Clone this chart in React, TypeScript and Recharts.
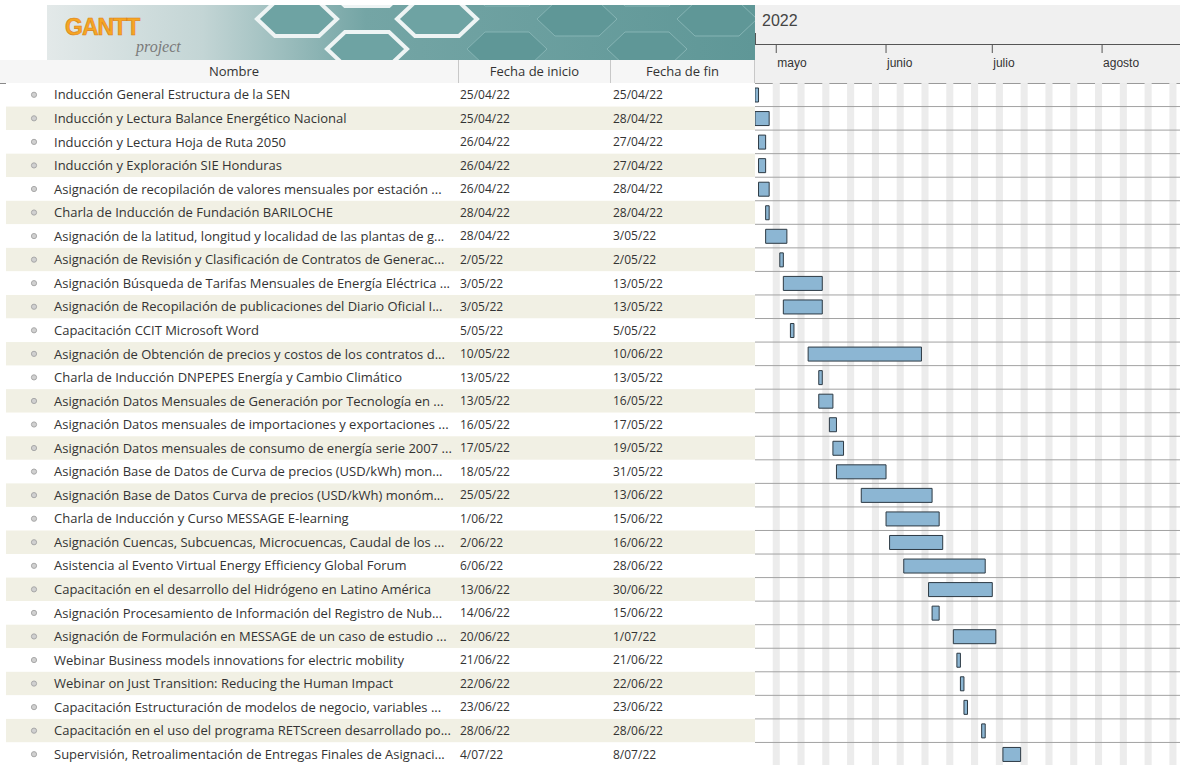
import React from "react";
import { BarChart, Bar, XAxis, YAxis, ReferenceArea, ReferenceLine } from "recharts";

const taskNames = [
  "Inducción General Estructura de la SEN",
  "Inducción y Lectura Balance Energético Nacional",
  "Inducción y Lectura Hoja de Ruta 2050",
  "Inducción y Exploración SIE Honduras",
  "Asignación de recopilación de valores mensuales por estación ...",
  "Charla de Inducción de Fundación BARILOCHE",
  "Asignación de la latitud, longitud y localidad de las plantas de g...",
  "Asignación de Revisión y Clasificación de Contratos de Generac...",
  "Asignación Búsqueda de Tarifas Mensuales de Energía Eléctrica ...",
  "Asignación de Recopilación de publicaciones del Diario Oficial I...",
  "Capacitación CCIT Microsoft Word",
  "Asignación de Obtención de precios y costos de los contratos d...",
  "Charla de Inducción DNPEPES Energía y Cambio Climático",
  "Asignación Datos Mensuales de Generación por Tecnología en ...",
  "Asignación Datos mensuales de importaciones y exportaciones ...",
  "Asignación Datos mensuales de consumo de energía serie 2007 ...",
  "Asignación Base de Datos de Curva de precios (USD/kWh) mon...",
  "Asignación Base de Datos Curva de precios (USD/kWh) monóm...",
  "Charla de Inducción y Curso MESSAGE E-learning",
  "Asignación Cuencas, Subcuencas, Microcuencas, Caudal de los ...",
  "Asistencia al Evento Virtual Energy Efficiency Global Forum",
  "Capacitación en el desarrollo del Hidrógeno en Latino América",
  "Asignación Procesamiento de Información del Registro de Nub...",
  "Asignación de Formulación en MESSAGE de un caso de estudio ...",
  "Webinar Business models innovations for electric mobility",
  "Webinar on Just Transition: Reducing the Human Impact",
  "Capacitación Estructuración de modelos de negocio, variables ...",
  "Capacitación en el uso del programa RETScreen desarrollado po...",
  "Supervisión, Retroalimentación de Entregas Finales de Asignaci...",
];

const startDates = [
  "25/04/22", "25/04/22", "26/04/22", "26/04/22", "26/04/22", "28/04/22", "28/04/22", "2/05/22",
  "3/05/22", "3/05/22", "5/05/22", "10/05/22", "13/05/22", "13/05/22", "16/05/22", "17/05/22",
  "18/05/22", "25/05/22", "1/06/22", "2/06/22", "6/06/22", "13/06/22", "14/06/22", "20/06/22",
  "21/06/22", "22/06/22", "23/06/22", "28/06/22", "4/07/22",
];

const endDates = [
  "25/04/22", "28/04/22", "27/04/22", "27/04/22", "28/04/22", "28/04/22", "3/05/22", "2/05/22",
  "13/05/22", "13/05/22", "5/05/22", "10/06/22", "13/05/22", "16/05/22", "17/05/22", "19/05/22",
  "31/05/22", "13/06/22", "15/06/22", "16/06/22", "28/06/22", "30/06/22", "15/06/22", "1/07/22",
  "21/06/22", "22/06/22", "23/06/22", "28/06/22", "8/07/22",
];

const monthLabels = ["mayo", "junio", "julio", "agosto"];
const monthStarts = ["1/05/22", "1/06/22", "1/07/22", "1/08/22"];
const yearLabel = "2022";
const columnTitles = ["Nombre", "Fecha de inicio", "Fecha de fin"];
const viewStart = "25/04/22";
const viewEnd = "23/08/22";

function toUtc(s: string) {
  const [d, m, y] = s.split("/").map(Number);
  return Date.UTC(2000 + y, m - 1, d);
}
function toDay(s: string) {
  return Math.round((toUtc(s) - toUtc(viewStart)) / 86400000);
}

const rows = taskNames.map((name, i) => {
  const s = toDay(startDates[i]);
  const e = toDay(endDates[i]);
  return { name, offset: s, duration: e - s + 1 };
});

const lastDay = toDay(viewEnd);
const weekends: number[] = [];
for (let d = 0; d <= lastDay; d++) {
  if (new Date(toUtc(viewStart) + d * 86400000).getUTCDay() === 6) weekends.push(d);
}
const monthTicks = monthStarts.map(toDay);

const W = 1180;
const H = 766;
const TOP = 83;
const TABLE_W = 755;
const ROW_H = (H - TOP) / rows.length;
const FONT = "'Open Sans', 'Noto Sans', sans-serif";

function TableRow(props: any) {
  const { y, payload, index } = props;
  return (
    <g>
      <rect x={6} y={y - ROW_H / 2} width={TABLE_W - 6} height={ROW_H} fill={index % 2 ? "#f1f0e4" : "#ffffff"} />
      <circle cx={34} cy={y} r={2.6} fill="#d0d0d0" stroke="#a8a8a8" strokeWidth={1} />
      <text x={54} y={y} dy="0.36em" fontSize={13} fontFamily={FONT} fill="#333">
        {payload.value}
      </text>
      <text x={460} y={y} dy="0.36em" fontSize={12} fontFamily={FONT} fill="#333">
        {startDates[index]}
      </text>
      <text x={613} y={y} dy="0.36em" fontSize={12} fontFamily={FONT} fill="#333">
        {endDates[index]}
      </text>
    </g>
  );
}

function MonthTick(props: any) {
  const { x, index } = props;
  return (
    <g>
      <line x1={x} x2={x} y1={44} y2={53} stroke="#555" strokeWidth={1} />
      <text x={x + 1} y={67} fontSize={12} fontFamily="'Liberation Sans', Arial, sans-serif" fill="#333">
        {monthLabels[index]}
      </text>
    </g>
  );
}

function Banner() {
  const hexes = [
    [250, 14], [320, 44], [390, 14], [320, -16], [460, 44], [530, 14], [600, 44], [670, 14], [460, -16], [600, -16],
  ];
  return (
    <svg width={708} height={55} style={{ position: "absolute", left: 47, top: 5 }}>
      <defs>
        <linearGradient id="bg" x1="0" x2="1" y1="0" y2="0">
          <stop offset="0" stopColor="#e3e9e9" />
          <stop offset="0.22" stopColor="#c3d5d5" />
          <stop offset="0.45" stopColor="#74a5a5" />
          <stop offset="1" stopColor="#5f9797" />
        </linearGradient>
      </defs>
      <rect width={708} height={55} fill="url(#bg)" />
      {hexes.map(([cx, cy], i) => (
        <polygon
          key={i}
          points={`${cx - 40},${cy} ${cx - 22},${cy - 17} ${cx + 22},${cy - 17} ${cx + 40},${cy} ${cx + 22},${cy + 17} ${cx - 22},${cy + 17}`}
          fill={i < 3 ? "#6ea3a3" : "#5f9797"}
          stroke={i < 4 ? "#eef4f4" : "#86b4b4"}
          strokeWidth={i < 4 ? 4 : 1}
        />
      ))}
      <text x={18} y={30} fontSize={23} fontWeight="bold" fontFamily="'Liberation Sans', Arial, sans-serif" fill="#f6a623" stroke="#d9801a" strokeWidth={0.6} letterSpacing={-1}>
        GANTT
      </text>
      <text x={89} y={47} fontSize={16} fontStyle="italic" fontFamily="'Liberation Serif', serif" fill="#7a7a7a">
        project
      </text>
    </svg>
  );
}

export default function App() {
  return (
    <div style={{ position: "absolute", left: 0, top: 0, width: W, height: 765, overflow: "hidden", background: "#fff", fontFamily: FONT }}>
      <Banner />
      {/* table header */}
      <div style={{ position: "absolute", left: 0, top: 60, width: TABLE_W, height: 23, background: "#f6f6f6", borderBottom: "1px solid #8a8a8a" }} />
      {[
        [10, 459],
        [459, 611],
        [611, 755],
      ].map(([a, b], i) => (
        <div
          key={i}
          style={{
            position: "absolute", left: a, top: 60, width: b - a, height: 23, lineHeight: "23px",
            textAlign: "center", fontSize: 13, color: "#333", borderRight: "1px solid #c8c8c8", boxSizing: "border-box",
          }}
        >
          {columnTitles[i]}
        </div>
      ))}
      {/* timeline header */}
      <div style={{ position: "absolute", left: TABLE_W, top: 5, width: W - TABLE_W, height: 78, background: "#f0f0f0", borderBottom: "1px solid #9a9a9a" }} />
      <div style={{ position: "absolute", left: TABLE_W, top: 44, width: W - TABLE_W, height: 1, background: "#555" }} />
      <div style={{ position: "absolute", left: TABLE_W, top: 33, width: 1, height: 11, background: "#555" }} />
      <div style={{ position: "absolute", left: 762, top: 12, fontSize: 16, color: "#444", fontFamily: "'Liberation Sans', Arial, sans-serif" }}>{yearLabel}</div>
      <div style={{ position: "absolute", left: 0, top: 0 }}>
        <BarChart width={W} height={H} data={rows} layout="vertical" margin={{ top: TOP - 40, right: 0, bottom: 0, left: 0 }} barSize={14}>
          <XAxis
            type="number"
            orientation="top"
            domain={[0, lastDay]}
            ticks={monthTicks}
            allowDataOverflow
            height={40}
            axisLine={false}
            tickLine={false}
            tick={<MonthTick />}
            interval={0}
          />
          <YAxis type="category" dataKey="name" width={TABLE_W} axisLine={false} tickLine={false} tick={<TableRow />} interval={0} />
          {weekends.map((d) => (
            <ReferenceArea key={d} x1={d} x2={Math.min(d + 2, lastDay)} fill="#ececec" fillOpacity={1} stroke="none" ifOverflow="hidden" />
          ))}
          {rows.map((r) => (
            <ReferenceLine key={r.name} y={r.name} position="end" stroke="#a2a2a2" strokeWidth={1} />
          ))}
          <Bar dataKey="offset" stackId="g" fill="transparent" isAnimationActive={false} />
          <Bar dataKey="duration" stackId="g" fill="#8cb6d3" stroke="#2d3a44" strokeWidth={1} isAnimationActive={false} />
        </BarChart>
      </div>
    </div>
  );
}
